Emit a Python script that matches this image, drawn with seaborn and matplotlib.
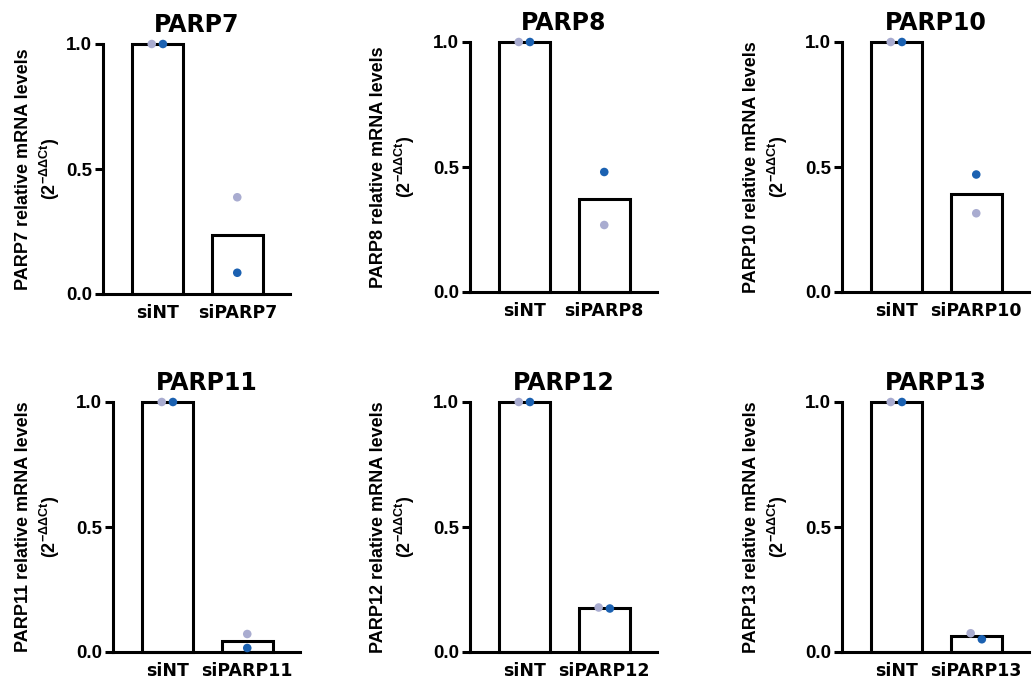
import matplotlib.pyplot as plt
import pandas as pd
import seaborn as sns

genes = ["PARP7", "PARP8", "PARP10", "PARP11", "PARP12", "PARP13"]
control = "siNT"
knockdowns = ["siPARP7", "siPARP8", "siPARP10", "siPARP11", "siPARP12", "siPARP13"]

# two replicates per condition (rep1 = light dots, rep2 = dark dots)
rep1_control = [1.0, 1.0, 1.0, 1.0, 1.0, 1.0]
rep2_control = [1.0, 1.0, 1.0, 1.0, 1.0, 1.0]
rep1_knockdown = [0.387, 0.268, 0.315, 0.072, 0.178, 0.075]
rep2_knockdown = [0.085, 0.480, 0.470, 0.016, 0.174, 0.051]

y_ticks = [0.0, 0.5, 1.0]
y_tick_labels = ["0.0", "0.5", "1.0"]

rep_colors = {"rep1": "#a9acd0", "rep2": "#1b61b1"}

sns.set_theme(style="ticks", rc={
    "text.color": "black", "axes.labelcolor": "black", "axes.edgecolor": "black",
    "xtick.color": "black", "ytick.color": "black",
})
plt.rcParams["font.family"] = ["Liberation Sans", "DejaVu Sans"]
plt.rcParams["font.weight"] = "bold"
plt.rcParams["mathtext.fontset"] = "custom"
plt.rcParams["mathtext.rm"] = "Liberation Sans"
plt.rcParams["mathtext.it"] = "Liberation Sans"
plt.rcParams["mathtext.bf"] = "Liberation Sans:bold"

wide_font = ["DejaVu Sans"]  # titles and x labels look wider in the original

W, H = 1033, 687
fig = plt.figure(figsize=(W / 100, H / 100), dpi=100)

# panel left edge, top edge and y-label right edge, in pixels
panel_px = [
    (103, 44, 62), (470, 42, 417), (842, 42, 790),
    (113, 402, 62), (470, 402, 417), (842, 402, 790),
]
ax_w, ax_h = 187, 250

for i, gene in enumerate(genes):
    left, top, lab_x = panel_px[i]
    ax = fig.add_axes([left / W, 1 - (top + ax_h) / H, ax_w / W, ax_h / H])

    df = pd.DataFrame({
        "Condition": [control, control, knockdowns[i], knockdowns[i]],
        "Value": [rep1_control[i], rep2_control[i], rep1_knockdown[i], rep2_knockdown[i]],
        "Replicate": ["rep1", "rep2", "rep1", "rep2"],
    })

    sns.barplot(
        data=df, x="Condition", y="Value", order=[control, knockdowns[i]],
        errorbar=None, color="white", edgecolor="black", linewidth=2.2,
        width=0.64, saturation=1, ax=ax,
    )
    for p in ax.patches:
        p.set_clip_on(False)

    # GraphPad style: spread dots sideways only when they overlap
    xpos = []
    for cond_idx, (a, b) in enumerate([(rep1_control[i], rep2_control[i]),
                                        (rep1_knockdown[i], rep2_knockdown[i])]):
        shift = 0.07 if abs(a - b) < 0.04 else 0.0
        xpos += [cond_idx - shift, cond_idx + shift]
    df["x"] = xpos

    sns.scatterplot(
        data=df, x="x", y="Value", hue="Replicate", palette=rep_colors,
        s=38, edgecolor="none", legend=False, ax=ax, clip_on=False, zorder=4,
    )

    ax.set_xlim(-0.68, 1.66)
    ax.set_ylim(0, 1.0)
    ax.set_xticks([0, 1])
    ax.set_xticklabels([control, knockdowns[i]], fontsize=12.5,
                       fontweight="bold", family=wide_font)
    ax.set_yticks(y_ticks)
    ax.set_yticklabels(y_tick_labels, fontsize=13.5, fontweight="bold")
    ax.tick_params(axis="x", length=0, pad=7)
    ax.tick_params(axis="y", length=6, width=2.2, pad=2)
    sns.despine(ax=ax)
    for s in ["left", "bottom"]:
        ax.spines[s].set_linewidth(2.2)

    ax.set_xlabel("")
    ax.set_ylabel(
        f"{gene} relative mRNA levels\n(2$^{{-\\Delta\\Delta Ct}}$)",
        fontsize=13, fontweight="bold", linespacing=1.35,
    )
    ax.yaxis.set_label_coords((lab_x - left) / ax_w, 0.5)
    ax.set_title(gene, fontsize=17, fontweight="bold", pad=9, family=wide_font)

plt.savefig("out.png", dpi=100)
